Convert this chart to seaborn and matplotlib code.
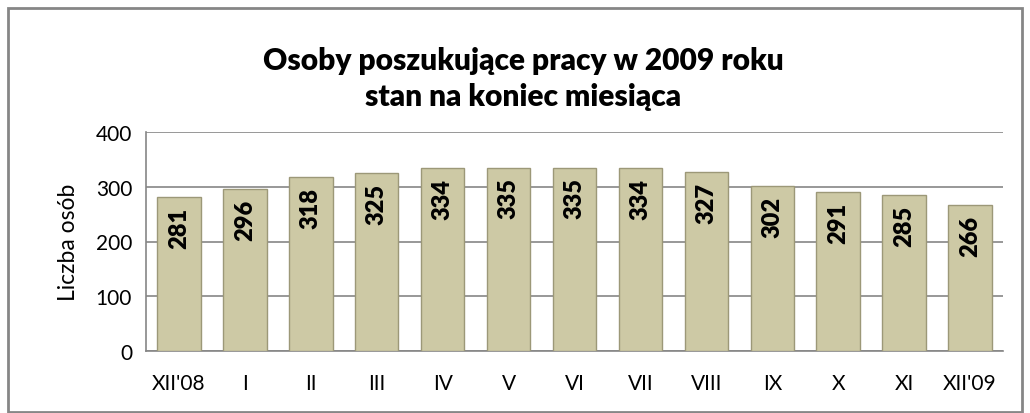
import matplotlib
matplotlib.use("Agg")
import matplotlib.pyplot as plt
import seaborn as sns
import pandas as pd
from matplotlib.patches import Rectangle

months = ["XII'08", "I", "II", "III", "IV", "V", "VI", "VII", "VIII", "IX", "X", "XI", "XII'09"]
people = [281, 296, 318, 325, 334, 335, 335, 334, 327, 302, 291, 285, 266]

df = pd.DataFrame({"miesiac": months, "osoby": people})

sns.set_style("white")
plt.rcParams["font.family"] = ["Lato", "DejaVu Sans"]
plt.rcParams["text.color"] = "black"
plt.rcParams["axes.labelcolor"] = "black"

fig = plt.figure(figsize=(10.3, 4.14), dpi=100)
ax = fig.add_axes([146 / 1030, 62 / 414, 857 / 1030, 219 / 414])

sns.barplot(data=df, x="miesiac", y="osoby", color="#cdc9a5", saturation=1,
            width=0.66, edgecolor="#9c9878", linewidth=1.0, ax=ax, zorder=3)

# etykiety wartości wewnątrz słupków
for i, v in enumerate(people):
    ax.text(i, v - 18, str(v), rotation=90, ha="center", va="top",
            fontsize=17, fontweight="heavy", color="black", zorder=4)

ax.set_ylim(0, 400)
ax.set_yticks([0, 100, 200, 300, 400])
ax.yaxis.grid(True, color="#868686", linewidth=1.2, zorder=0)
ax.set_axisbelow(True)
ax.set_xlim(-0.5, len(months) - 0.5)
ax.set_xlabel("")
ax.set_ylabel("Liczba osób", fontsize=16.5, labelpad=12)
ax.tick_params(axis="both", labelsize=15, colors="black")
ax.tick_params(axis="y", direction="inout", length=10, color="#868686", pad=5)
ax.tick_params(axis="x", length=0, pad=16)
# znaczniki między kategoriami
ax.set_xticks([i + 0.5 for i in range(-1, len(months))], minor=True)
ax.tick_params(axis="x", which="minor", length=7, color="#868686", direction="out")

for s in ["top", "right"]:
    ax.spines[s].set_visible(False)
ax.spines["left"].set_color("#868686")
ax.spines["bottom"].set_color("#868686")
ax.spines["left"].set_linewidth(1.2)
ax.spines["bottom"].set_linewidth(1.2)

fig.text(0.508, 0.81, "Osoby poszukujące pracy w 2009 roku\nstan na koniec miesiąca",
         ha="center", va="center", fontsize=21.5, fontweight="heavy",
         color="black", linespacing=1.35)

fig.patches.append(Rectangle((8 / 1030, 1 / 414), 1014 / 1030, 404 / 414,
                             transform=fig.transFigure, fill=False,
                             edgecolor="#868686", linewidth=2))

fig.savefig("out.png", dpi=100)
